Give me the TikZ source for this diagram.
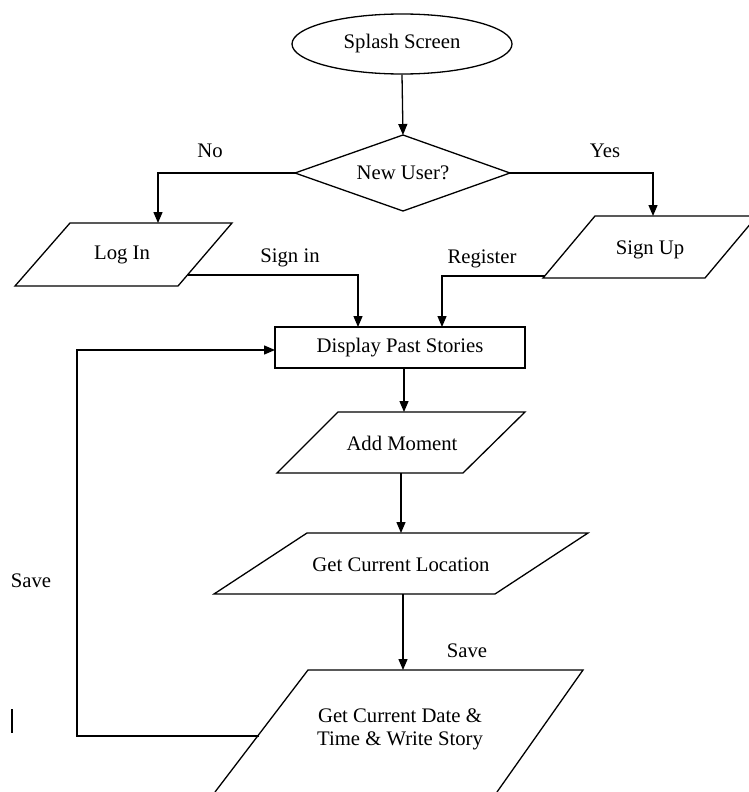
\documentclass[tikz,border=0pt]{standalone}
\usepackage{fontspec}
\setmainfont{Liberation Serif}
\usetikzlibrary{shapes.geometric,arrows.meta}
\begin{document}
\begin{tikzpicture}[x=1pt,y=-1pt,
  every node/.style={font=\fontsize{20.7}{23}\selectfont, inner sep=0pt},
  shapeline/.style={draw=black, line width=1.3pt, line join=miter},
  conn/.style={draw=black, line width=1.3pt},
  arr/.style={conn, -{Triangle[length=11pt,width=9pt]}},
  lbl/.style={anchor=center}]
\useasboundingbox (0,0) rectangle (748,792);

% Splash screen
\node[ellipse, shapeline, minimum width=220pt, minimum height=60pt] (splash) at (402,44) {Splash Screen};

% Decision
\coordinate (nuT) at (403,135);
\coordinate (nuL) at (295,173);
\coordinate (nuR) at (510,173);
\coordinate (nuB) at (403,211);
\draw[shapeline] (nuT) -- (nuR) -- (nuB) -- (nuL) -- cycle;
\node (newuser) at (403,173) {New User?};

% Log In
\draw[shapeline] (70,223) -- (232,223) -- (178,286) -- (15,286) -- cycle;
\node (login) at (122,255) {Log In};
\coordinate (loginT) at (158,223);
\coordinate (loginR) at (188,275);

% Sign Up
\draw[shapeline] (595,216) -- (757,216) -- (705,278) -- (543,278) -- cycle;
\node (signup) at (650,250) {Sign Up};
\coordinate (signupT) at (653,216);
\coordinate (signupL) at (545,276);

% Display past stories
\node[rectangle, shapeline, minimum width=250pt, minimum height=41pt] (display) at (400,347.5) {Display Past Stories};

% Add moment
\draw[shapeline] (338,412) -- (525,412) -- (463,473) -- (277,473) -- cycle;
\node (addm) at (402,443) {Add Moment};
\coordinate (addmT) at (404,412);
\coordinate (addmB) at (401,473);

% Get current location
\draw[shapeline] (307,533) -- (588,533) -- (495,594) -- (214,594) -- cycle;
\node (loc) at (401,565) {Get Current Location};
\coordinate (locT) at (401,533);
\coordinate (locB) at (403,594);

% Get current date & time
\draw[shapeline] (215,792) -- (308,670) -- (583,670) -- (497,792);
\node[align=center] (story) at (400,729) {Get Current Date \&\\Time \& Write Story};
\coordinate (storyT) at (403,670);
\coordinate (storyL) at (259,736);

% Loop corners
\coordinate (loopB) at (77,736);
\coordinate (loopT) at (77,350);
\coordinate (dispL) at (275,350);

% Connectors
\draw[arr] (splash.south) -- (nuT);
\draw[arr] (nuL) -| (loginT);
\draw[arr] (nuR) -| (signupT);
\draw[arr] (loginR) -| (358,327);
\draw[arr] (signupL) -| (442,327);
\draw[arr] (404,368) -- (addmT);
\draw[arr] (addmB) -- (locT);
\draw[arr] (locB) -- (storyT);
\draw[arr] (storyL) -- (loopB) -- (loopT) -- (dispL);

% Labels
\node[lbl] (lno) at (210,151) {No};
\node[lbl] (lyes) at (605,151) {Yes};
\node[lbl] (lsignin) at (290,258) {Sign in};
\node[lbl] (lreg) at (482,259) {Register};
\node[lbl] (lsave1) at (467,651) {Save};
\node[lbl] (lsave2) at (31,581) {Save};

% stray bar
\coordinate (barT) at (12,709);
\coordinate (barB) at (12,733);
\draw[line width=1.3pt] (barT) -- (barB);
\end{tikzpicture}
\end{document}
